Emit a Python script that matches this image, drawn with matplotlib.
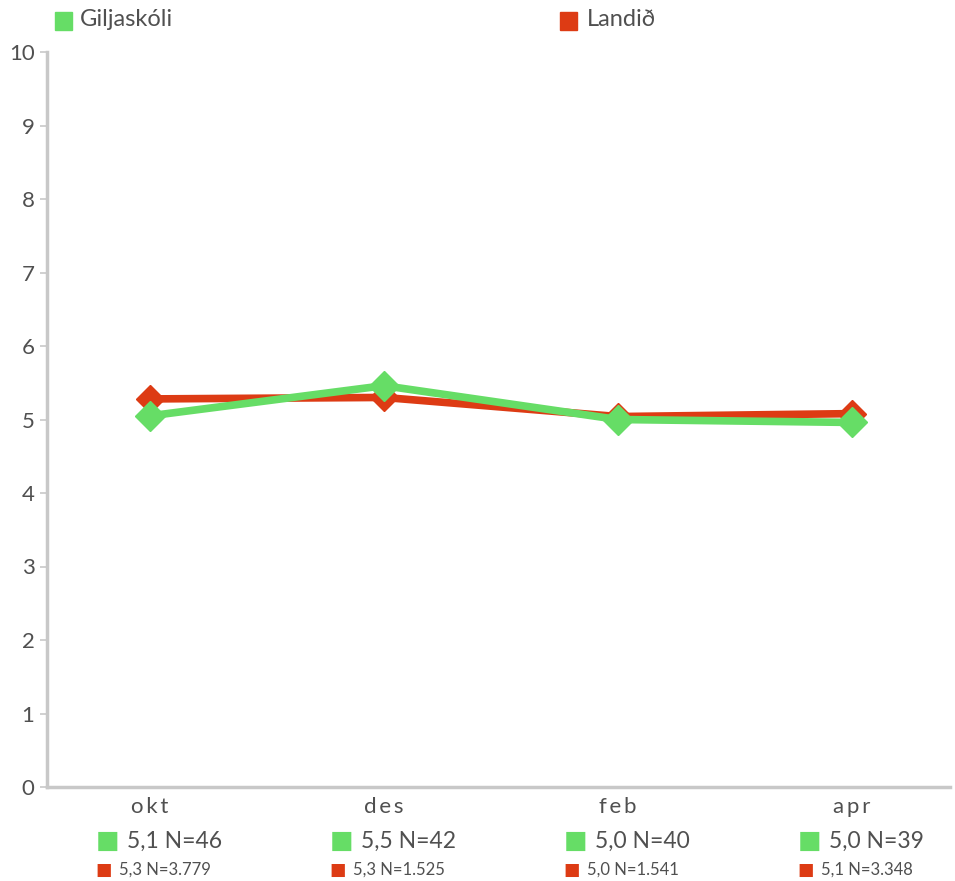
import matplotlib
matplotlib.use("Agg")
import matplotlib.pyplot as plt
from matplotlib.patches import Rectangle

plt.rcParams['font.family'] = ['Lato', 'DejaVu Sans']

categories = ["okt", "des", "feb", "apr"]
gilja = [5.05, 5.46, 5.00, 4.96]
landid = [5.28, 5.30, 5.04, 5.08]
gilja_labels = ["5,1 N=46", "5,5 N=42", "5,0 N=40", "5,0 N=39"]
landid_labels = ["5,3 N=3.779", "5,3 N=1.525", "5,0 N=1.541", "5,1 N=3.348"]
series_names = ["Giljaskóli", "Landið"]

GREEN = "#66DD66"
RED = "#DD3B14"
TXT = "#505050"
AX = "#c8c8c8"

W, H = 955, 881
fig = plt.figure(figsize=(W / 100, H / 100), dpi=100)
ax = fig.add_axes([47 / W, (H - 787) / H, 903 / W, (787 - 52) / H])

x = list(range(len(categories)))
ax.plot(x, landid, color=RED, lw=5.5, marker="D", ms=14, zorder=3, solid_joinstyle="miter")
ax.plot(x, gilja, color=GREEN, lw=5.5, marker="D", ms=15, zorder=4, solid_joinstyle="miter")

ax.set_xlim(-0.44, 3.42)
ax.set_ylim(0, 10)
ax.set_yticks(range(0, 11))
ax.set_yticklabels([str(v) for v in range(0, 11)], fontsize=16, color=TXT)
ax.set_xticks([])
for s in ["top", "right"]:
    ax.spines[s].set_visible(False)
for s in ["left", "bottom"]:
    ax.spines[s].set_color(AX)
    ax.spines[s].set_linewidth(2.5)
ax.tick_params(axis="y", length=5, width=1.2, color=AX, pad=4)

for i, cat in enumerate(categories):
    ax.annotate("\u2009".join(cat), xy=(i, 0), xycoords=("data", "axes fraction"),
                xytext=(0, -20), textcoords="offset pixels",
                ha="center", va="center", fontsize=16, color=TXT)
    # green row
    ax.annotate("■", xy=(i, 0), xycoords=("data", "axes fraction"),
                xytext=(-42, -54), textcoords="offset pixels",
                ha="center", va="center", fontsize=18, color=GREEN,
                family="DejaVu Sans")
    ax.annotate(gilja_labels[i], xy=(i, 0), xycoords=("data", "axes fraction"),
                xytext=(-23, -54), textcoords="offset pixels",
                ha="left", va="center", fontsize=16.5, color=TXT)
    # red row
    ax.annotate("■", xy=(i, 0), xycoords=("data", "axes fraction"),
                xytext=(-46, -83), textcoords="offset pixels",
                ha="center", va="center", fontsize=12.5, color=RED,
                family="DejaVu Sans")
    ax.annotate(landid_labels[i], xy=(i, 0), xycoords=("data", "axes fraction"),
                xytext=(-31, -83), textcoords="offset pixels",
                ha="left", va="center", fontsize=12, color=TXT)

# legend at top
fig.patches.append(Rectangle((55 / W, (H - 30) / H), 17 / W, 18 / H,
                             transform=fig.transFigure, color=GREEN))
fig.text(80 / W, (H - 20) / H, series_names[0], fontsize=17, color=TXT,
         ha="left", va="center")
fig.patches.append(Rectangle((560 / W, (H - 30) / H), 17 / W, 18 / H,
                             transform=fig.transFigure, color=RED))
fig.text(587 / W, (H - 20) / H, series_names[1], fontsize=17, color=TXT,
         ha="left", va="center")

fig.savefig("out.png", dpi=100)
